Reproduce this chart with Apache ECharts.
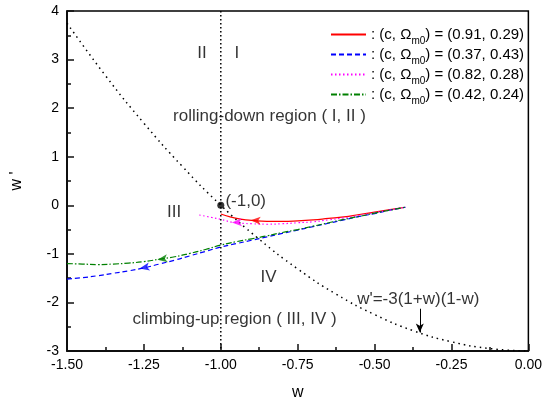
<!DOCTYPE html>
<html>
<head>
<meta charset="utf-8">
<script src="https://cdn.jsdelivr.net/npm/echarts@6/dist/echarts.min.js"></script>
<style>
  html, body { margin: 0; padding: 0; background: #fff; }
  #chartmain { width: 545px; height: 406px; }
</style>
</head>
<body>
<div id="chartmain"></div>
<script>
// x ticks
var xTicks = [-1.5, -1.25, -1.0, -0.75, -0.5, -0.25, 0.0];

// curves (w, w')
var redW  = [-1.0, -0.97, -0.93, -0.9, -0.85, -0.8, -0.75, -0.7, -0.65, -0.6, -0.55, -0.5, -0.45, -0.4];
var redWp = [-0.18, -0.24, -0.29, -0.31, -0.33, -0.33, -0.32, -0.30, -0.27, -0.24, -0.19, -0.14, -0.09, -0.04];

var magW  = [-1.07, -1.03, -1.0, -0.96, -0.9, -0.85, -0.8, -0.75, -0.7, -0.65, -0.6, -0.55, -0.5, -0.45, -0.4];
var magWp = [-0.20, -0.25, -0.29, -0.35, -0.38, -0.39, -0.38, -0.36, -0.34, -0.30, -0.26, -0.21, -0.15, -0.10, -0.04];

var bgW   = [-1.5, -1.45, -1.4, -1.35, -1.3, -1.25, -1.2, -1.15, -1.1, -1.05, -1.0, -0.95, -0.9, -0.85, -0.8, -0.75, -0.7, -0.65, -0.6, -0.55, -0.5, -0.45, -0.4];
var blueWp  = [-1.52, -1.49, -1.45, -1.40, -1.35, -1.29, -1.21, -1.13, -1.04, -0.95, -0.86, -0.79, -0.72, -0.65, -0.58, -0.51, -0.44, -0.37, -0.30, -0.23, -0.17, -0.10, -0.04];
var greenWp = [-1.20, -1.21, -1.22, -1.21, -1.19, -1.16, -1.11, -1.06, -0.99, -0.91, -0.82, -0.75, -0.69, -0.63, -0.56, -0.50, -0.43, -0.36, -0.29, -0.23, -0.16, -0.10, -0.04];

// boundary curve w'=-3(1+w)(1-w)
var bndW  = [-1.5, -1.375, -1.25, -1.125, -1.0, -0.875, -0.75, -0.625, -0.5, -0.375, -0.25, -0.125, 0.0];
var bndWp = [3.75, 2.67, 1.69, 0.80, 0.0, -0.70, -1.31, -1.83, -2.25, -2.58, -2.81, -2.95, -3.0];

var legendNames = ['(0.91, 0.29)', '(0.37, 0.43)', '(0.82, 0.28)', '(0.42, 0.24)'];
var colors = ['#ff0000', '#0000ff', '#ff00ff', '#008000'];

// arrows on curves: [w, w', rotate]
var arrows = [[-0.903, -0.31, 88], [-1.264, -1.30, 101], [-0.964, -0.355, 92], [-1.206, -1.12, 98]];

// text annotations: [w, w', text, align]
var notes = [
    [-1.061, 3.12, 'II', 'center'],
    [-0.948, 3.12, 'I', 'center'],
    [-1.155, 1.84, 'rolling-down region ( I, II )', 'left'],
    [-1.152, -0.14, 'III', 'center'],
    [-0.985, 0.09, '(-1,0)', 'left'],
    [-0.845, -1.49, 'IV', 'center'],
    [-0.955, -2.35, 'climbing-up region ( III, IV )', 'center'],
    [-0.358, -1.93, "w'=-3(1+w)(1-w)", 'center']
];

function zip(a, b) {
    var out = [];
    for (var i = 0; i < a.length; i++) out.push([a[i], b[i]]);
    return out;
}

var font = 'Liberation Sans, Arial, sans-serif';
var tickColor = '#111';
var myChart = echarts.init(document.getElementById('chartmain'));

// bottom / left axis; step = tick spacing, len = tick length
function frameAxis(pos, min, max, step, len, line) {
    return {
        type: 'value', position: pos, min: min, max: max, interval: step,
        axisLine: { show: line, onZero: false, lineStyle: { color: '#000', width: 1.5 } },
        axisTick: { show: true, inside: true, length: len, lineStyle: { color: tickColor, width: 1.5 } },
        axisLabel: { show: false },
        splitLine: { show: false }
    };
}

function curve(name, xs, ys, color, type) {
    return {
        name: name, type: 'line', data: zip(xs, ys), smooth: true,
        symbol: 'none', z: 3,
        lineStyle: { color: color, width: 1.2, type: type },
        itemStyle: { color: color }
    };
}

var series = [
    curve(legendNames[0], redW, redWp, colors[0], 'solid'),
    curve(legendNames[1], bgW, blueWp, colors[1], [5, 3]),
    curve(legendNames[2], magW, magWp, colors[2], [1.5, 2.5]),
    curve(legendNames[3], bgW, greenWp, colors[3], [6, 2, 1.5, 2]),
    {
        name: 'boundary', type: 'line', data: zip(bndW, bndWp), smooth: true, symbol: 'none',
        lineStyle: { color: '#000', width: 1.5, type: [1.5, 4] },
        markLine: {
            silent: true, symbol: ['none', 'arrow'], symbolSize: [6, 9],
            lineStyle: { color: '#000', width: 1, type: 'solid' }, label: { show: false },
            data: [[{ coord: [-0.353, -2.13] }, { coord: [-0.353, -2.62] }]]
        }
    },
    {
        name: 'wminus1', type: 'line', data: [[-1.0, 4], [-1.0, -3]], symbol: 'none',
        lineStyle: { color: '#000', width: 1.5, type: [1.5, 2.5] }
    },
    {
        name: 'point', type: 'scatter', data: [[-1.0, 0.0]], symbolSize: 7,
        itemStyle: { color: '#000' }, z: 5
    },
    {
        name: 'notes', type: 'scatter', symbolSize: 0, silent: true,
        data: notes.map(function (n) {
            return {
                value: [n[0], n[1]],
                label: { show: true, position: 'inside', align: n[3], formatter: n[2],
                    color: '#000', fontFamily: font, fontSize: 17 }
            };
        })
    }
];

arrows.forEach(function (a, i) {
    series.push({
        name: 'arrow' + i, type: 'scatter', z: 6, silent: true,
        data: [[a[0], a[1]]], symbol: 'arrow', symbolSize: [6, 10], symbolRotate: a[2],
        itemStyle: { color: colors[i] }
    });
});

var xMain = frameAxis('bottom', xTicks[0], xTicks[xTicks.length - 1], 0.25, 7, true);
xMain.name = 'w';
xMain.nameLocation = 'middle';
xMain.nameGap = 34;
xMain.nameTextStyle = { color: '#000', fontFamily: font, fontSize: 16 };
xMain.axisLabel = { show: true, color: '#000', fontFamily: font, fontSize: 14, margin: 7,
    formatter: function (v) { return v.toFixed(2); } };

var yMain = frameAxis('left', -3, 4, 1, 7, true);
yMain.name = "w '";
yMain.nameLocation = 'middle';
yMain.nameGap = 42;
yMain.nameTextStyle = { color: '#000', fontFamily: font, fontSize: 16 };
yMain.axisLabel = { show: true, color: '#000', fontFamily: font, fontSize: 14, margin: 8 };

var options = {
    animation: false,
    backgroundColor: '#fff',
    grid: { left: 67, right: 13, top: 11, bottom: 52, show: true, borderColor: '#000', borderWidth: 1.5 },
    legend: {
        data: legendNames, orient: 'vertical', left: 325, top: 22,
        itemWidth: 35, itemHeight: 10, itemGap: 1,
        itemStyle: { opacity: 0 },
        formatter: function (name) {
            return '{a|: (c, Ω}{s|m0}{a|) = ' + name + '}';
        },
        textStyle: {
            color: '#000', fontFamily: font, fontSize: 15,
            rich: {
                a: { fontFamily: font, fontSize: 15, lineHeight: 18, color: '#000' },
                s: { fontFamily: font, fontSize: 10, lineHeight: 23, verticalAlign: 'bottom', color: '#000' }
            }
        }
    },
    xAxis: [
        xMain,
        frameAxis('bottom', -1.5, 0, 0.125, 4, false)
    ],
    yAxis: [
        yMain,
        frameAxis('left', -3, 4, 0.5, 4, false)
    ],
    series: series
};
myChart.setOption(options);
</script>
</body>
</html>
